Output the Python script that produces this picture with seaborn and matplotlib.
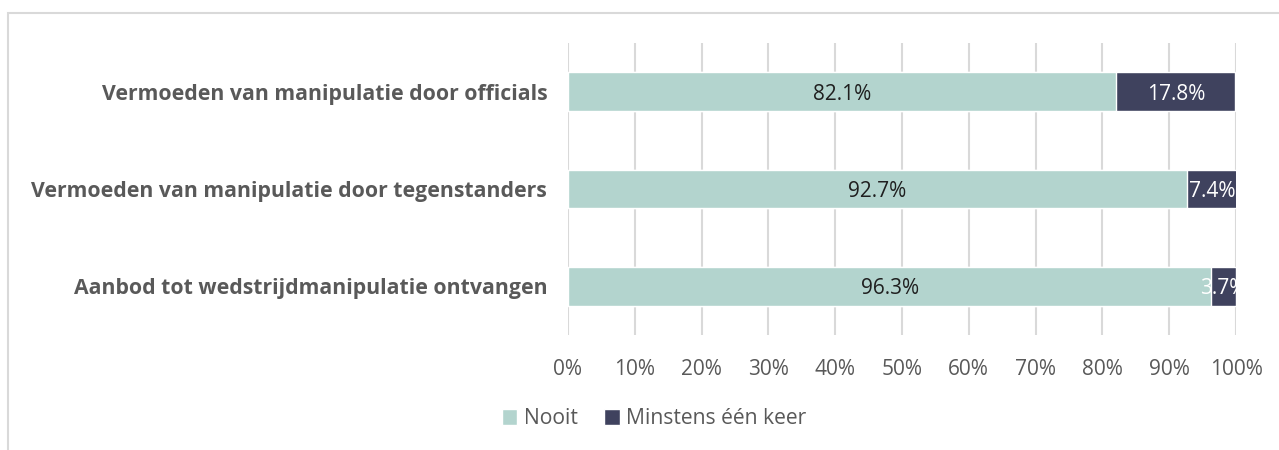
import pandas as pd
import seaborn as sns
import matplotlib.pyplot as plt
from matplotlib.patches import Rectangle, Patch

# data
categories = [
    "Vermoeden van manipulatie door officials",
    "Vermoeden van manipulatie door tegenstanders",
    "Aanbod tot wedstrijdmanipulatie ontvangen",
]
nooit = [82.1, 92.7, 96.3]
minstens = [17.8, 7.4, 3.7]
series_names = ["Nooit", "Minstens één keer"]
xticks = list(range(0, 101, 10))

c_nooit = "#B3D4CE"
c_min = "#3F425E"
grey = "#595959"

df = pd.DataFrame({"categorie": categories, "Nooit": nooit, "Minstens": minstens})
df["totaal"] = df["Nooit"] + df["Minstens"]

sns.set_style("white")
plt.rcParams["font.family"] = ["Open Sans", "DejaVu Sans"]

fig = plt.figure(figsize=(12.79, 4.5), dpi=100)
ax = fig.add_axes([568 / 1279, 1 - 335 / 450, 668 / 1279, 292 / 450])

# --- stacked bars: total first (dark), then Nooit on top (light) ---
sns.barplot(ax=ax, data=df, y="categorie", x="totaal", color=c_min,
            width=0.4, saturation=1, order=categories)
sns.barplot(ax=ax, data=df, y="categorie", x="Nooit", color=c_nooit,
            width=0.4, saturation=1, order=categories)

ax.set_xlim(0, 100)
ax.set_ylim(2.5, -0.5)
ax.set_xticks(xticks)
ax.set_xticklabels([f"{t}%" for t in xticks], fontsize=15, color=grey)
ax.tick_params(axis="x", length=0, pad=17)
ax.tick_params(axis="y", length=0, pad=15)
for lbl in ax.get_yticklabels():
    lbl.set_fontweight("bold")
    lbl.set_fontsize(15.3)
    lbl.set_color(grey)
ax.set_xlabel("")
ax.set_ylabel("")
ax.grid(axis="x", color="#D9D9D9", linewidth=1.5)
ax.set_axisbelow(True)
for s in ax.spines.values():
    s.set_visible(False)

# --- value labels ---
for i in range(len(categories)):
    ax.text(nooit[i] / 2, i, f"{nooit[i]:.1f}%", ha="center",
            va="center_baseline", fontsize=15, color="#1f1f1f")
    ax.text(nooit[i] + minstens[i] / 2, i, f"{minstens[i]:.1f}%", ha="center",
            va="center_baseline", fontsize=15, color="white")

# --- legend ---
handles = [Patch(facecolor=c_nooit), Patch(facecolor=c_min)]
fig.legend(handles, series_names, loc="center", ncol=2, frameon=False,
           bbox_to_anchor=(654 / 1279, 1 - 419 / 450), fontsize=15.2,
           handlelength=0.75, handleheight=0.75, handletextpad=0.3,
           columnspacing=1.25, labelcolor=grey)

# panel frame
fig.patches.append(Rectangle((8 / 1279, -0.1), 1.2, 0.1 + (450 - 13) / 450,
                             transform=fig.transFigure, fill=False,
                             edgecolor="#D9D9D9", linewidth=1.5))

plt.savefig("out.png", dpi=100)
